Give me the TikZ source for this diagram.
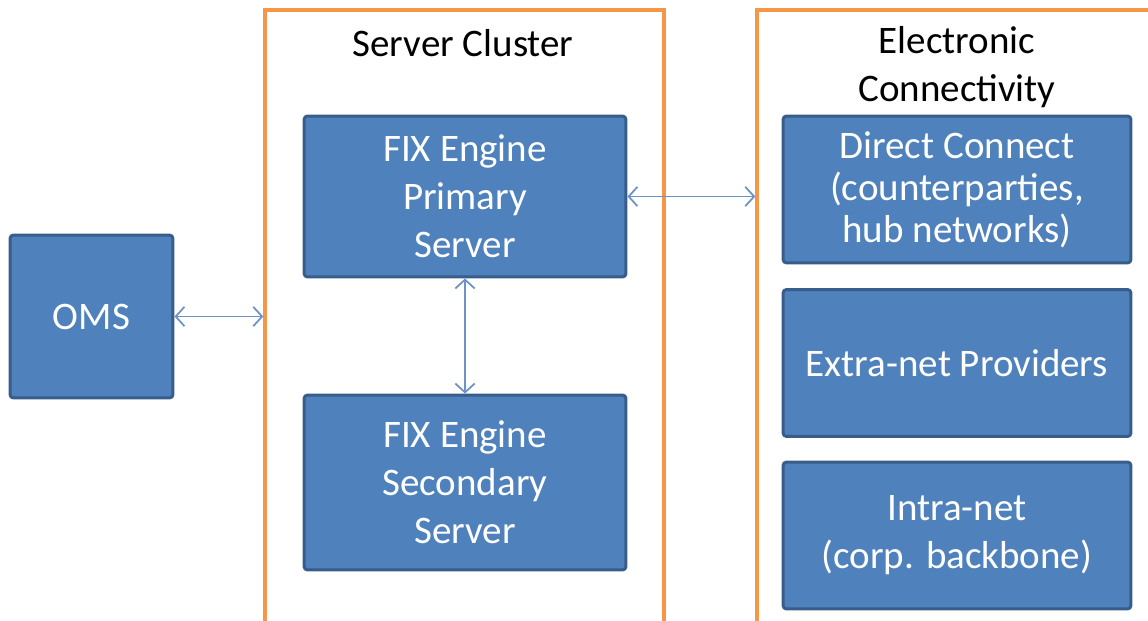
\documentclass[tikz,border=0pt]{standalone}
\usepackage{fontspec}
\setmainfont{Carlito}
\usetikzlibrary{arrows.meta,positioning}
\definecolor{boxfill}{HTML}{4F81BD}
\definecolor{boxline}{HTML}{385D8A}
\definecolor{frameline}{HTML}{F79646}
\definecolor{linkline}{HTML}{6A93C8}
\tikzset{
      serverbox/.style={
        rounded corners=2pt,
        draw=boxline,
        line width=1.7pt,
        fill=boxfill,
        text=white,
        align=center,
        font=\fontsize{22.2}{27.3}\selectfont,
        inner sep=2pt
      },
      groupframe/.style={
        draw=frameline,
        line width=2pt,
        inner sep=0pt
      },
      grouptitle/.style={
        align=center,
        font=\fontsize{22.2}{27.3}\selectfont
      },
      link/.style={
        {Straight Barb[length=5pt,width=11pt]}-{Straight Barb[length=5pt,width=11pt]},
        draw=linkline,
        line width=1pt
      }
    }

\begin{document}
\begin{tikzpicture}[x=0.02cm,y=-0.02cm]
    \useasboundingbox (0,0) rectangle (1148,621);
    \clip (0,0) rectangle (1148,621);
    % groups
    \node[groupframe, minimum width=7.98cm, minimum height=12.6cm] (cluster) at (464.5,325) {};
    \node[groupframe, minimum width=8.26cm, minimum height=12.6cm] (connect) at (963.5,325) {};
    \node[grouptitle] (clustertitle) at (463,43) {Server Cluster};
    \node[grouptitle] (connecttitle) at (957,67) {Electronic\\Connectivity};
    % boxes
    \node[serverbox, minimum width=3.26cm, minimum height=3.26cm] (oms) at (91.5,316.5) {OMS};
    \node[serverbox, minimum width=6.44cm, minimum height=3.22cm] (primary) at (465,196.5) {FIX Engine\\Primary\\Server};
    \node[serverbox, minimum width=6.44cm, minimum height=3.5cm] (secondary) at (465,482.5) {FIX Engine\\Secondary\\Server};
    \node[serverbox, minimum width=6.96cm, minimum height=2.94cm, font=\fontsize{22.2}{23.9}\selectfont] (direct) at (957,189.5) {Direct Connect\\(counterparties,\\hub networks)};
    \node[serverbox, minimum width=6.96cm, minimum height=2.94cm] (extranet) at (957,363) {Extra-net Providers};
    \node[serverbox, minimum width=6.96cm, minimum height=2.94cm] (intranet) at (957,535.5) {Intra-net\\(corp. backbone)};
    % links
    \draw[link] (oms.east) -- (oms.east -| cluster.west);
    \draw[link] (primary.east) -- (primary.east -| connect.west);
    \draw[link] (primary.south) -- (secondary.north);
\end{tikzpicture}
\end{document}
